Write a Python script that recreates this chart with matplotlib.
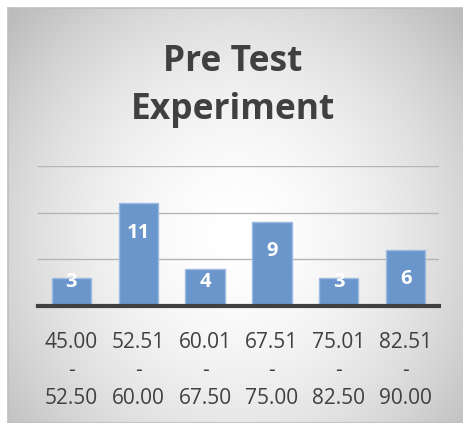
import numpy as np
import matplotlib
matplotlib.use("Agg")
import matplotlib.pyplot as plt

plt.rcParams['font.family'] = ['Open Sans', 'DejaVu Sans']

categories = ["45.00\n-\n52.50", "52.51\n-\n60.00", "60.01\n-\n67.50",
              "67.51\n-\n75.00", "75.01\n-\n82.50", "82.51\n-\n90.00"]
counts = [3, 11, 4, 9, 3, 6]
title = "Pre Test\nExperiment"

W, H = 464, 423
fig = plt.figure(figsize=(W / 100, H / 100), dpi=100)
fig.patch.set_facecolor('white')

# radial gradient background inside the chart frame
bg = fig.add_axes([8 / W, 0, (W - 8) / W, (H - 8) / H])
yy, xx = np.mgrid[0:1:300j, 0:1:300j]
r = np.sqrt(((xx - 0.5) / 0.6) ** 2 + ((yy - 0.45) / 0.72) ** 2)
shade = 1 - 0.22 * np.clip(r, 0, 1.2) ** 1.8
bg.imshow(np.dstack([shade] * 3), extent=[0, 1, 0, 1], aspect='auto', origin='lower')
bg.set_xlim(0, 1)
bg.set_ylim(0, 1)
bg.set_xticks([])
bg.set_yticks([])
for s in bg.spines.values():
    s.set_color('#bfbfbf')
    s.set_linewidth(1.2)

ax = fig.add_axes([38 / W, (H - 306) / H, 401 / W, 140 / H])
ax.patch.set_alpha(0)
x = np.arange(len(counts))
ax.bar(x, counts, width=0.59, color='#6a96cb', edgecolor='#9dbbe0', linewidth=1, zorder=3)
ax.set_xlim(-0.5, len(counts) - 0.5)
ax.set_ylim(0, 15)
ax.set_yticks([5, 10, 15])
ax.yaxis.grid(True, color='#b5b5b5', linewidth=1)
ax.set_axisbelow(True)
ax.tick_params(left=False, labelleft=False, bottom=False)
for s in ['top', 'right', 'left']:
    ax.spines[s].set_visible(False)
ax.spines['bottom'].set_color('#404040')
ax.spines['bottom'].set_linewidth(3)
ax.spines['bottom'].set_zorder(4)

ax.set_xticks(x)
ax.set_xticklabels(categories, fontsize=15, color='#404040', linespacing=1.45)
ax.tick_params(axis='x', pad=15)

for xi, v in zip(x, counts):
    ly = max(v - 3.15, 2.55)
    ax.text(xi, ly, str(v), ha='center', va='center', color='white',
            fontsize=14.5, fontweight='bold', zorder=5)

fig.text(233 / W, 1 - 86 / H, title, ha='center', va='center', fontsize=25.5,
         fontweight='bold', color='#404040', linespacing=1.45)

fig.savefig("out.png", dpi=100)
